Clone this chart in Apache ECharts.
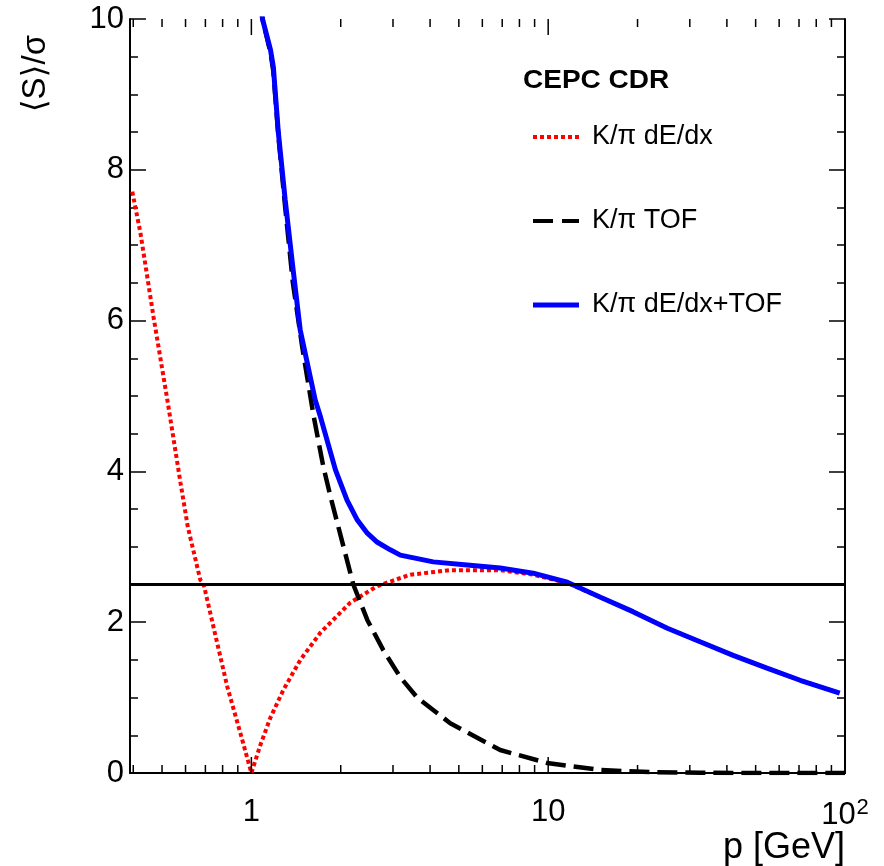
<!DOCTYPE html>
<html>
<head>
<meta charset="utf-8">
<script src="https://cdn.jsdelivr.net/npm/echarts@6/dist/echarts.min.js"></script>
<style>
  html, body { margin: 0; padding: 0; background: #fff; }
  #chart { width: 884px; height: 866px; }
</style>
</head>
<body>
<div id="chart"></div>
<script>
// Axis ranges
const X_MIN = 0.39;
const X_MAX = 100;
const Y_MIN = 0;
const Y_MAX = 10;
const Y_STEP = 2;

// Separation threshold (horizontal reference line)
const threshold = 2.5;

// Series names
const nameDedx = 'K/\u03c0 dE/dx';
const nameTof = 'K/\u03c0 TOF';
const nameComb = 'K/\u03c0 dE/dx+TOF';

// K/pi separation power with dE/dx: momentum [GeV] and <S>/sigma
const pDedx = [0.397, 0.423, 0.468, 0.521, 0.577, 0.611, 0.673, 0.689, 0.745, 0.83, 0.918, 1.0,
  1.072, 1.158, 1.281, 1.462, 1.708, 2.154, 2.657, 3.43, 4.677, 6.89, 8.9, 11.6, 15, 19.3, 25.2, 32.5, 42, 54.6, 70.6, 96];
const sDedx = [7.71, 7.16, 6.05, 4.95, 3.85, 3.26, 2.56, 2.52, 1.94, 1.14, 0.53, 0.0,
  0.37, 0.73, 1.10, 1.50, 1.86, 2.26, 2.48, 2.63, 2.69, 2.69, 2.63, 2.52, 2.33, 2.14, 1.92, 1.74, 1.56, 1.39, 1.23, 1.06];

// K/pi separation power with TOF
const pTof = [1.05, 1.09, 1.16, 1.186, 1.233, 1.30, 1.38, 1.485, 1.618, 1.748, 1.86, 2.205, 2.458, 2.782,
  3.175, 3.622, 4.677, 6.89, 9.92, 14.96, 22.0, 32.5, 50, 100];
const sTof = [10.6, 10.0, 9.55, 9.3, 8.45, 7.5, 6.5, 5.64, 4.75, 4.06, 3.62, 2.5, 2.03, 1.63,
  1.27, 1.0, 0.66, 0.305, 0.133, 0.04, 0.012, 0.003, 0.0, 0.0];

// Combined dE/dx + TOF
const pComb = [1.05, 1.09, 1.16, 1.186, 1.233, 1.30, 1.38, 1.46, 1.64, 1.71, 1.92, 2.1, 2.275, 2.458, 2.657,
  2.938, 3.175, 4.1, 5.33, 6.89, 8.9, 11.6, 15, 19.3, 25.2, 32.5, 42, 54.6, 70.6, 96];
const sComb = [10.6, 10.0, 9.59, 9.36, 8.49, 7.6, 6.7, 5.88, 4.95, 4.72, 4.02, 3.62, 3.355, 3.18, 3.06,
  2.96, 2.89, 2.80, 2.76, 2.72, 2.65, 2.53, 2.33, 2.14, 1.92, 1.74, 1.56, 1.39, 1.23, 1.06];

// Log-axis tick positions (1..9 per decade)
const xTicks = [];
[0.1, 1, 10].forEach(function (d) {
  for (let k = 1; k <= 9; k++) {
    const v = +(k * d).toPrecision(6);
    if (v >= X_MIN && v <= X_MAX) xTicks.push(v);
  }
});
xTicks.push(X_MAX);

const FONT = "'Liberation Sans', Arial, Helvetica, 'DejaVu Sans', sans-serif";

// Legend entries: label, colour, width, dash pattern
const legendRows = [
  { name: nameDedx, color: '#ff0000', width: 4, dash: [4, 3] },
  { name: nameTof, color: '#000000', width: 4, dash: [20, 9] },
  { name: nameComb, color: '#0000ff', width: 5, dash: null }
];

function zipXY(xs, ys) {
  return xs.map(function (x, i) { return [x, ys[i]]; });
}

function isDecade(v) {
  const l = Math.log10(v);
  return Math.abs(l - Math.round(l)) < 1e-6;
}

// Legend drawn as graphic elements
const legendGraphics = [];
const LEG_X = 533, LEG_Y0 = 137, LEG_DY = 84;
legendRows.forEach(function (r, i) {
  const y = LEG_Y0 + i * LEG_DY;
  legendGraphics.push({
    type: 'line', shape: { x1: LEG_X, y1: y, x2: LEG_X + 46, y2: y },
    style: { stroke: r.color, lineWidth: r.width, lineDash: r.dash || null, lineCap: 'butt' }
  });
  legendGraphics.push({
    type: 'text', x: LEG_X + 59, y: y,
    style: { text: r.name, font: '27px ' + FONT, fill: '#000', align: 'left', verticalAlign: 'middle' }
  });
});

const chart = echarts.init(document.getElementById('chart'), null, { renderer: 'canvas' });

const option = {
  backgroundColor: '#fff',
  animation: false,
  grid: { left: 130, right: 39, top: 19, bottom: 93, containLabel: false },
  xAxis: [
    {
      type: 'log', logBase: 10, min: X_MIN, max: X_MAX, position: 'bottom',
      axisLine: { show: true, lineStyle: { color: '#000', width: 2 } },
      axisTick: { show: false },
      splitLine: { show: false },
      axisLabel: {
        show: true, margin: 24, color: '#000', fontFamily: FONT, fontSize: 31,
        showMinLabel: false,
        formatter: function (v) {
          if (!isDecade(v)) return '';
          const e = Math.round(Math.log10(v));
          if (e === 0) return '{n|1}';
          if (e === 1) return '{n|10}';
          return '{n|10}{s|' + e + '}';
        },
        rich: {
          n: { fontSize: 31, fontFamily: FONT, color: '#000' },
          s: { fontSize: 22, fontFamily: FONT, color: '#000', verticalAlign: 'top', padding: [0, 0, 14, 1] }
        }
      }
    },
    {
      type: 'log', logBase: 10, min: X_MIN, max: X_MAX, position: 'top',
      axisLine: { show: true, lineStyle: { color: '#000', width: 2 } },
      axisTick: { show: false },
      axisLabel: { show: false },
      splitLine: { show: false }
    }
  ],
  yAxis: [
    {
      type: 'value', min: Y_MIN, max: Y_MAX, interval: Y_STEP, position: 'left',
      axisLine: { show: true, lineStyle: { color: '#000', width: 2 } },
      axisTick: { show: true, inside: true, length: 16, lineStyle: { color: '#000', width: 1.5 } },
      minorTick: { show: true, splitNumber: 4, length: 8, lineStyle: { color: '#000', width: 1.5 } },
      splitLine: { show: false },
      minorSplitLine: { show: false },
      axisLabel: { margin: 6, color: '#000', fontFamily: FONT, fontSize: 31 }
    },
    {
      type: 'value', min: Y_MIN, max: Y_MAX, interval: Y_STEP, position: 'right',
      axisLine: { show: true, lineStyle: { color: '#000', width: 2 } },
      axisTick: { show: true, inside: true, length: 16, lineStyle: { color: '#000', width: 1.5 } },
      minorTick: { show: true, splitNumber: 4, length: 8, lineStyle: { color: '#000', width: 1.5 } },
      splitLine: { show: false },
      minorSplitLine: { show: false },
      axisLabel: { show: false }
    }
  ],
  graphic: [
    {
      type: 'text', x: 523, y: 81, scaleX: 1.12,
      style: { text: 'CEPC CDR', font: 'bold 25px ' + FONT, fill: '#000', align: 'left', verticalAlign: 'middle' }
    },
    {
      type: 'text', x: 36, y: 35, rotation: Math.PI / 2,
      style: { text: '\u27e8S\u27e9/\u03c3', font: '33px ' + FONT, fill: '#000', align: 'right', verticalAlign: 'middle' }
    },
    {
      type: 'text', x: 845, y: 848,
      style: { text: 'p [GeV]', font: '36px ' + FONT, fill: '#000', align: 'right', verticalAlign: 'middle' }
    }
  ].concat(legendGraphics),
  series: [
    {
      name: nameDedx, type: 'line', xAxisIndex: 0, yAxisIndex: 0,
      data: zipXY(pDedx, sDedx), symbol: 'none', smooth: false,
      lineStyle: { color: '#ff0000', width: 4, type: [4, 3], cap: 'butt' },
      itemStyle: { color: '#ff0000' }, z: 2
    },
    {
      name: nameTof, type: 'line', xAxisIndex: 0, yAxisIndex: 0,
      data: zipXY(pTof, sTof), symbol: 'none', smooth: false,
      lineStyle: { color: '#000', width: 4.5, type: [20, 8], cap: 'butt' },
      itemStyle: { color: '#000' }, z: 3
    },
    {
      name: nameComb, type: 'line', xAxisIndex: 0, yAxisIndex: 0,
      data: zipXY(pComb, sComb), symbol: 'none', smooth: false,
      lineStyle: { color: '#0000ff', width: 5 },
      itemStyle: { color: '#0000ff' }, z: 4
    },
    {
      name: 'threshold', type: 'line', xAxisIndex: 0, yAxisIndex: 0,
      data: [[X_MIN, threshold], [X_MAX, threshold]], symbol: 'none',
      lineStyle: { color: '#000', width: 3 }, z: 5, silent: true
    },
    {
      // inward ticks on the bottom and top log axes
      name: 'xticks', type: 'custom', xAxisIndex: 0, yAxisIndex: 0,
      data: xTicks.map(function (v) { return [v, Y_MIN]; }),
      silent: true, z: 6, clip: false,
      renderItem: function (params, api) {
        const v = api.value(0);
        const len = isDecade(v) ? 16 : 8;
        const b = api.coord([v, Y_MIN]);
        const t = api.coord([v, Y_MAX]);
        const st = { stroke: '#000', lineWidth: 1.5 };
        return {
          type: 'group',
          children: [
            { type: 'line', shape: { x1: b[0], y1: b[1], x2: b[0], y2: b[1] - len }, style: st },
            { type: 'line', shape: { x1: t[0], y1: t[1], x2: t[0], y2: t[1] + len }, style: st }
          ]
        };
      }
    }
  ]
};

chart.setOption(option);
</script>
</body>
</html>
